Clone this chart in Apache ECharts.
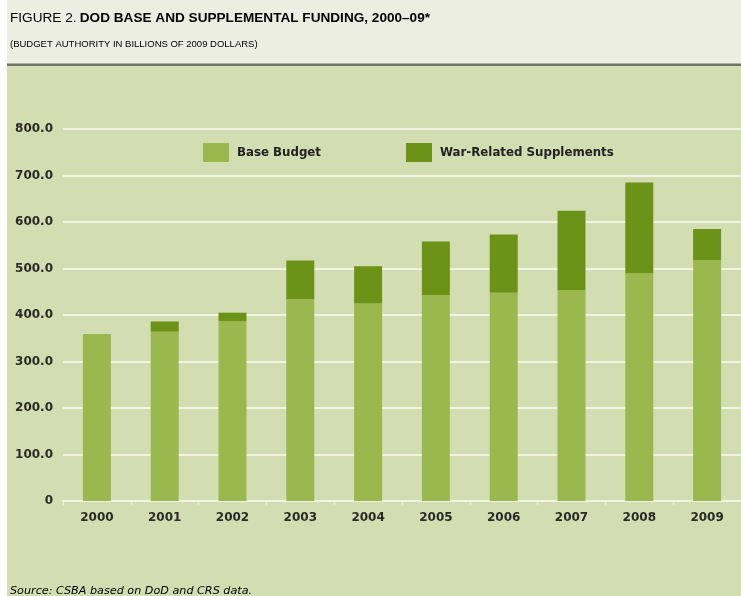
<!DOCTYPE html>
<html>
<head>
<meta charset="utf-8">
<script src="https://cdn.jsdelivr.net/npm/echarts@6/dist/echarts.min.js"></script>
<style>html,body{margin:0;padding:0;background:#fff}#c{width:741px;height:596px}</style>
</head>
<body>
<div id="c"></div>
<script>
const years = ['2000','2001','2002','2003','2004','2005','2006','2007','2008','2009'];
const baseBudget = [359, 364, 387, 434, 425, 443, 448, 454, 490, 518];
const warSupplements = [0, 22, 18, 83, 80, 115, 125, 170, 195, 67];
const yTicks = [0, 100, 200, 300, 400, 500, 600, 700, 800];

const chart = echarts.init(document.getElementById('c'), null, {renderer: 'canvas'});
const font = "'Liberation Sans', Arial, sans-serif";
const dfont = "'DejaVu Sans', sans-serif";
chart.setOption({
  backgroundColor: '#ffffff',
  animation: false,
  graphic: [
    {type: 'rect', z: -10, shape: {x: 7, y: 0, width: 734, height: 64}, style: {fill: '#eceee1'}},
    {type: 'rect', z: -10, shape: {x: 7, y: 66, width: 734, height: 530}, style: {fill: '#d2ddb2'}},
    {type: 'rect', z: -9, shape: {x: 7, y: 63.5, width: 734, height: 2.5}, style: {fill: '#6e7563'}},
    {type: 'text', left: 10, top: 11, style: {
      text: '{a|FIGURE 2.} {b|DOD BASE AND SUPPLEMENTAL FUNDING, 2000–09*}',
      rich: {
        a: {fontFamily: font, fontSize: 13.6, color: '#7a7d74', fontWeight: 'normal'},
        b: {fontFamily: font, fontSize: 13.6, color: '#2e2e2a', fontWeight: 'bold'}
      }
    }},
    {type: 'text', left: 10, top: 39, style: {
      text: '(BUDGET AUTHORITY IN BILLIONS OF 2009 DOLLARS)',
      fontFamily: font, fontSize: 9.5, color: '#5c5e55'
    }},
    {type: 'text', left: 10, top: 586, style: {
      text: 'Source: CSBA based on DoD and CRS data.',
      fontFamily: dfont, fontSize: 11.2, fontStyle: 'italic', color: '#5a5e4e'
    }}
  ],
  legend: {
    left: 203, top: 143, padding: 0,
    itemWidth: 26, itemHeight: 19, itemGap: 85,
    icon: 'rect',
    textStyle: {fontFamily: dfont, fontSize: 11.8, fontWeight: 'bold', color: '#222', padding: [0,0,0,3]},
    data: ['Base Budget', 'War-Related Supplements']
  },
  grid: {left: 63, right: 0, top: 129, bottom: 95, containLabel: false},
  xAxis: {
    type: 'category', data: years,
    axisLine: {show: true, lineStyle: {color: '#f1f4e2', width: 2}},
    axisTick: {show: true, alignWithLabel: false, length: 4, lineStyle: {color: '#eef2dc', width: 1}},
    axisLabel: {fontFamily: dfont, fontSize: 12, fontWeight: 'bold', color: '#2a2a26', margin: 11}
  },
  yAxis: {
    type: 'value', min: 0, max: 800, interval: 100,
    axisLine: {show: false}, axisTick: {show: false},
    splitLine: {show: true, lineStyle: {color: '#f1f4e2', width: 2}},
    axisLabel: {
      fontFamily: dfont, fontSize: 12, fontWeight: 'bold', color: '#2a2a26', margin: 10,
      padding: [0, 0, 8, 0],
      formatter: v => yTicks.includes(v) ? (v === 0 ? '0' : v.toFixed(1)) : ''
    }
  },
  series: [
    {name: 'Base Budget', type: 'bar', stack: 't', barWidth: 28, data: baseBudget,
     itemStyle: {color: '#9bb84f'}},
    {name: 'War-Related Supplements', type: 'bar', stack: 't', barWidth: 28, data: warSupplements,
     itemStyle: {color: '#6c9318'}}
  ]
});
</script>
</body>
</html>
